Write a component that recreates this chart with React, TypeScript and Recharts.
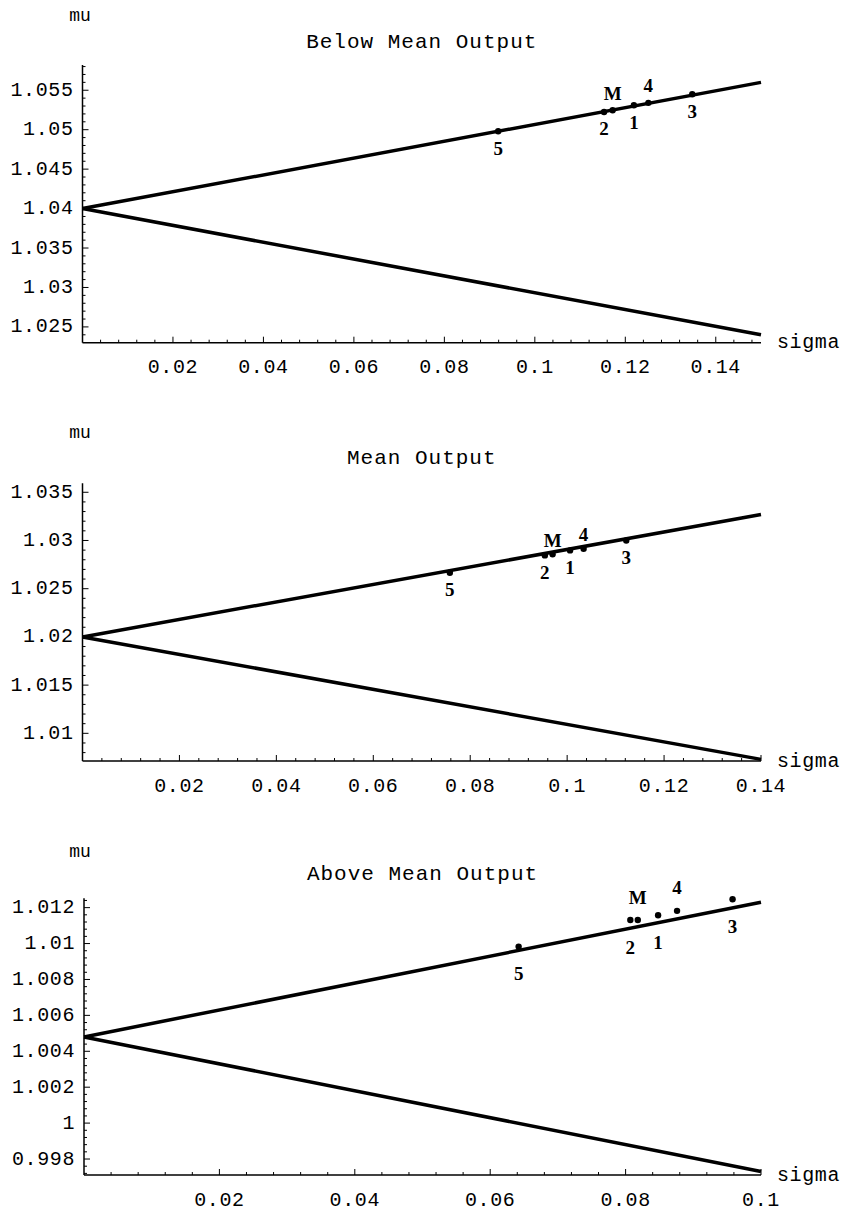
import React from 'react';
import { ComposedChart, Line, Scatter, XAxis, YAxis } from 'recharts';

// point labels, same order in every panel
const pointNames = ['5', '2', 'M', '1', '4', '3'];
const labelsAbove = ['M', '4'];

// Below Mean Output
const belowFrontierSigma = [0, 0.15];
const belowUpperMu = [1.04, 1.056];
const belowLowerMu = [1.04, 1.024];
const belowSigma = [0.0919, 0.1153, 0.1172, 0.1219, 0.1251, 0.1348];
const belowMu = [1.0498, 1.05225, 1.05246, 1.0531, 1.0534, 1.0545];
const belowXTicks = [0.02, 0.04, 0.06, 0.08, 0.1, 0.12, 0.14];
const belowYTicks = [1.025, 1.03, 1.035, 1.04, 1.045, 1.05, 1.055];

// Mean Output
const meanFrontierSigma = [0, 0.14];
const meanUpperMu = [1.02, 1.0327];
const meanLowerMu = [1.02, 1.0073];
const meanSigma = [0.0758, 0.0954, 0.097, 0.1006, 0.1034, 0.1122];
const meanMu = [1.02665, 1.02845, 1.02856, 1.02897, 1.02915, 1.03];
const meanXTicks = [0.02, 0.04, 0.06, 0.08, 0.1, 0.12, 0.14];
const meanYTicks = [1.01, 1.015, 1.02, 1.025, 1.03, 1.035];

// Above Mean Output
const aboveFrontierSigma = [0, 0.1];
const aboveUpperMu = [1.0048, 1.0123];
const aboveLowerMu = [1.0048, 0.9973];
const aboveSigma = [0.0642, 0.0807, 0.0818, 0.0848, 0.0876, 0.0958];
const aboveMu = [1.00983, 1.01131, 1.01131, 1.01158, 1.01182, 1.01247];
const aboveXTicks = [0.02, 0.04, 0.06, 0.08, 0.1];
const aboveYTicks = [0.998, 1, 1.002, 1.004, 1.006, 1.008, 1.01, 1.012];

const mono = '"Liberation Mono", "DejaVu Sans Mono", monospace';
const serif = '"Liberation Serif", "DejaVu Serif", serif';

const minorTicks = (lo: number, hi: number, step: number, majors: number[]) => {
  const out: number[] = [];
  for (let k = Math.ceil(lo / step - 1e-9); k * step <= hi + 1e-12; k++) {
    const v = +(k * step).toFixed(6);
    if (v <= lo) continue;
    if (!majors.some((m) => Math.abs(m - v) < step / 10)) out.push(v);
  }
  return out;
};

const isMajor = (v: number, majors: number[]) => majors.some((m) => Math.abs(m - v) < 1e-9);

const XTick = ({ x, y, payload, majors }: any) => {
  const major = isMajor(payload.value, majors);
  return (
    <g>
      <line x1={x} x2={x} y1={y} y2={y - (major ? 6 : 3)} stroke="#000" strokeWidth={1} />
      {major && (
        <text x={x} y={y + 25} textAnchor="middle" dominantBaseline="central"
          fontFamily={mono} fontSize={20} letterSpacing={0.6} fill="#000">
          {String(payload.value)}
        </text>
      )}
    </g>
  );
};

const YTick = ({ x, y, payload, majors }: any) => {
  const major = isMajor(payload.value, majors);
  return (
    <g>
      <line x1={x} x2={x + (major ? 6 : 3)} y1={y} y2={y} stroke="#000" strokeWidth={1} />
      {major && (
        <text x={x - 9} y={y} textAnchor="end" dominantBaseline="central"
          fontFamily={mono} fontSize={20} letterSpacing={0.6} fill="#000">
          {String(payload.value)}
        </text>
      )}
    </g>
  );
};

interface PanelProps {
  title: string;
  top: number;
  height: number;
  plot: { left: number; top: number; right: number; bottom: number };
  xDomain: number[];
  yDomain: number[];
  xTicks: number[];
  yTicks: number[];
  xMinor: number;
  yMinor: number;
  frontierSigma: number[];
  upperMu: number[];
  lowerMu: number[];
  sigma: number[];
  mu: number[];
  titleY: number;
  muY: number;
  up: number;
  down: number;
}

const Panel = (p: PanelProps) => {
  const upper = p.frontierSigma.map((s, i) => ({ sigma: s, mu: p.upperMu[i] }));
  const lower = p.frontierSigma.map((s, i) => ({ sigma: s, mu: p.lowerMu[i] }));
  const points = p.sigma.map((s, i) => ({ sigma: s, mu: p.mu[i], name: pointNames[i] }));
  const xAll = [...p.xTicks, ...minorTicks(p.xDomain[0], p.xDomain[1], p.xMinor, p.xTicks)].sort((a, b) => a - b);
  const yAll = [...p.yTicks, ...minorTicks(p.yDomain[0], p.yDomain[1], p.yMinor, p.yTicks)].sort((a, b) => a - b);
  const yWidth = 60;
  const xHeight = 30;
  const margin = {
    top: p.plot.top,
    left: p.plot.left - yWidth,
    right: 853 - p.plot.right,
    bottom: p.height - p.plot.bottom - xHeight,
  };
  const centerX = (p.plot.left + p.plot.right) / 2;

  return (
    <div style={{ position: 'absolute', left: 0, top: p.top, width: 853, height: p.height }}>
      <ComposedChart width={853} height={p.height} margin={margin}>
        <XAxis
          type="number"
          dataKey="sigma"
          domain={p.xDomain}
          ticks={xAll}
          interval={0}
          height={xHeight}
          tickSize={0}
          tickMargin={0}
          tickLine={false}
          axisLine={{ stroke: '#000', strokeWidth: 1.5 }}
          tick={<XTick majors={p.xTicks} />}
          label={() => (
            <text x={p.plot.right + 16} y={p.plot.bottom} dominantBaseline="central"
              fontFamily={mono} fontSize={20} letterSpacing={0.6} fill="#000">sigma</text>
          )}
        />
        <YAxis
          type="number"
          dataKey="mu"
          domain={p.yDomain}
          ticks={yAll}
          interval={0}
          width={yWidth}
          tickSize={0}
          tickMargin={0}
          tickLine={false}
          axisLine={{ stroke: '#000', strokeWidth: 1.5 }}
          tick={<YTick majors={p.yTicks} />}
          label={() => (
            <g>
              <text x={80} y={p.muY} textAnchor="middle" dominantBaseline="central"
                fontFamily={mono} fontSize={18} fill="#000">mu</text>
              <text x={centerX} y={p.titleY} textAnchor="middle" dominantBaseline="central"
                fontFamily={mono} fontSize={21} letterSpacing={1} fill="#000">{p.title}</text>
            </g>
          )}
        />
        <Line data={upper} dataKey="mu" stroke="#000" strokeWidth={3.5} dot={false} isAnimationActive={false} />
        <Line data={lower} dataKey="mu" stroke="#000" strokeWidth={3.5} dot={false} isAnimationActive={false} />
        <Scatter
          data={points}
          dataKey="mu"
          isAnimationActive={false}
          shape={(s: any) => {
            const above = labelsAbove.includes(s.payload.name);
            return (
              <g>
                <circle cx={s.cx} cy={s.cy} r={3.2} fill="#000" />
                <text x={s.cx} y={s.cy + (above ? -p.up : p.down)} textAnchor="middle" dominantBaseline="central"
                  fontFamily={serif} fontWeight="bold" fontSize={19} fill="#000">{s.payload.name}</text>
              </g>
            );
          }}
        />
      </ComposedChart>
    </div>
  );
};

export default function App() {
  return (
    <div style={{ position: 'absolute', left: 0, top: 0, width: 853, height: 1211, background: '#fff' }}>
      <Panel
        title="Below Mean Output" top={0} height={400}
        plot={{ left: 82.5, top: 65, right: 761, bottom: 342.7 }}
        xDomain={[0, 0.15]} yDomain={[1.023, 1.0582]}
        xTicks={belowXTicks} yTicks={belowYTicks} xMinor={0.004} yMinor={0.001}
        frontierSigma={belowFrontierSigma} upperMu={belowUpperMu} lowerMu={belowLowerMu}
        sigma={belowSigma} mu={belowMu}
        titleY={42} muY={16} up={17} down={17}
      />
      <Panel
        title="Mean Output" top={400} height={400}
        plot={{ left: 82.5, top: 83.3, right: 761, bottom: 361 }}
        xDomain={[0, 0.14]} yDomain={[1.00713, 1.03593]}
        xTicks={meanXTicks} yTicks={meanYTicks} xMinor={0.004} yMinor={0.001}
        frontierSigma={meanFrontierSigma} upperMu={meanUpperMu} lowerMu={meanLowerMu}
        sigma={meanSigma} mu={meanMu}
        titleY={58} muY={33} up={14} down={17}
      />
      <Panel
        title="Above Mean Output" top={800} height={411}
        plot={{ left: 84, top: 98.3, right: 761, bottom: 375 }}
        xDomain={[0, 0.1]} yDomain={[0.99711, 1.01252]}
        xTicks={aboveXTicks} yTicks={aboveYTicks} xMinor={0.004} yMinor={0.0004}
        frontierSigma={aboveFrontierSigma} upperMu={aboveUpperMu} lowerMu={aboveLowerMu}
        sigma={aboveSigma} mu={aboveMu}
        titleY={74} muY={52} up={23} down={27}
      />
    </div>
  );
}
